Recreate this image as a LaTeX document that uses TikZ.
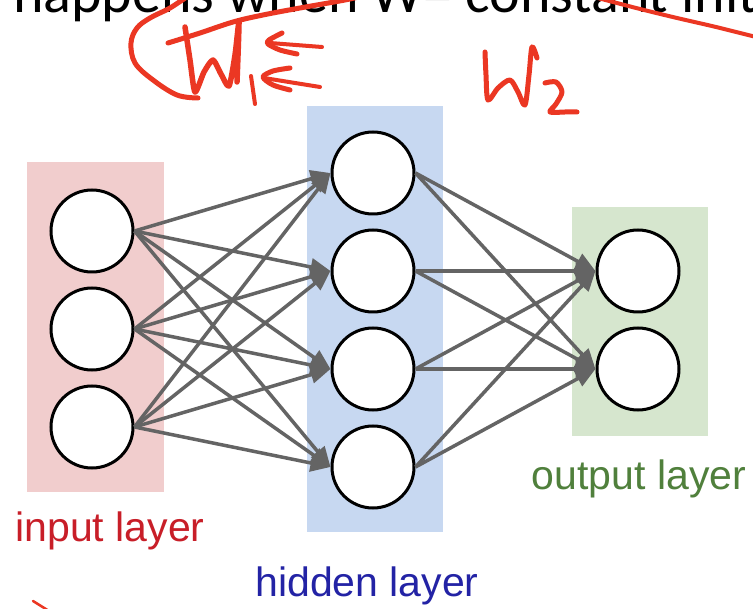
\documentclass[tikz,border=0pt]{standalone}
\usepackage{fontspec}
\setmainfont{Liberation Sans}
\newfontfamily\slidefont{Carlito}
\usetikzlibrary{arrows.meta}

\definecolor{inbox}{RGB}{241,205,205}
\definecolor{hidbox}{RGB}{199,216,241}
\definecolor{outbox}{RGB}{214,230,206}
\definecolor{intext}{RGB}{200,30,40}
\definecolor{hidtext}{RGB}{35,35,165}
\definecolor{outtext}{RGB}{80,128,60}
\definecolor{wire}{RGB}{100,100,100}
\definecolor{pen}{RGB}{235,55,35}

\tikzset{
  neuron/.style={circle, draw=black, line width=3pt, fill=white,
                 minimum size=82pt, inner sep=0pt},
  wirearrow/.style={draw=wire, line width=3.5pt,
                    -{Triangle[length=20pt,width=17pt]}},
  layerlabel/.style={anchor=base, inner sep=0pt,
                     font=\fontsize{41pt}{41pt}\selectfont},
  headword/.style={anchor=base west, inner sep=0pt,
                   font=\slidefont\fontsize{58pt}{58pt}\selectfont},
  ink/.style={draw=pen, line width=5pt, line cap=round, line join=round},
}

\begin{document}
\begin{tikzpicture}[x=1pt, y=-1pt]
  \useasboundingbox (0,0) rectangle (753,609);
  \clip (0,0) rectangle (753,609);
  \fill[white] (0,0) rectangle (753,609);

  % slide heading, mostly cut off at the top edge
  \node[headword] (title) at (13,13) {happens when W= constant initialization};

  % layer backgrounds
  \fill[inbox]  (27,162)  rectangle (164,492);
  \fill[hidbox] (307,106) rectangle (443,532);
  \fill[outbox] (572,207) rectangle (708,436);

  % neurons
  \node[neuron] (i1) at (92,231) {};
  \node[neuron] (i2) at (92,329) {};
  \node[neuron] (i3) at (92,427) {};
  \node[neuron] (h1) at (373,173) {};
  \node[neuron] (h2) at (373,271) {};
  \node[neuron] (h3) at (373,369) {};
  \node[neuron] (h4) at (373,467) {};
  \node[neuron] (o1) at (638,271) {};
  \node[neuron] (o2) at (638,369) {};

  % fully connected weights
  \foreach \s in {i1,i2,i3}
    \foreach \t in {h1,h2,h3,h4}
      \draw[wirearrow] (\s.east) -- (\t.west);
  \foreach \s in {h1,h2,h3,h4}
    \foreach \t in {o1,o2}
      \draw[wirearrow] (\s.east) -- (\t.west);

  % layer names
  \node[layerlabel, text=intext]  (lin)  at (110,542) {input layer};
  \node[layerlabel, text=hidtext] (lhid) at (367,596) {hidden layer};
  \node[layerlabel, text=outtext] (lout) at (639,490) {output layer};

  % handwritten annotations
  \draw[ink] plot[smooth, tension=0.6] coordinates
    {(188,-4) (170,8) (150,18) (137,28) (131,43) (135,63) (153,80) (177,95) (198,98)};
  \draw[ink] plot[smooth, tension=0.6] coordinates
    {(168,43) (200,33) (233,22) (263,15) (300,8) (345,0) (362,-4)};
  \draw[ink, line width=5.5pt] plot[smooth, tension=0.4] coordinates
    {(185,27) (190,60) (195,92) (204,72) (213,60) (221,74) (229,86) (235,55) (239,22) (237,82)};
  \draw[ink, line width=4pt] (251,76) -- (255,104);
  \draw[ink] plot[smooth, tension=0.5] coordinates
    {(282,33) (269,40) (268,44) (280,50) (297,54)};
  \draw[ink, line width=4pt] (270,43) -- (322,47);
  \draw[ink] plot[smooth, tension=0.5] coordinates
    {(290,68) (273,71) (263,77) (273,85) (290,90)};
  \draw[ink, line width=4pt] (264,78) -- (320,87);
  \draw[ink] plot[smooth, tension=0.5] coordinates
    {(485,52) (486,75) (488,100) (498,88) (510,80) (518,92) (525,105) (529,75) (532,47) (537,58)};
  \draw[ink] plot[smooth, tension=0.5] coordinates
    {(545,83) (556,82) (562,92) (556,104) (550,112) (565,112) (577,112)};
  \draw[ink, line width=4pt] plot[smooth, tension=0.5] coordinates
    {(594,-3) (640,9) (677,18) (716,27) (760,38)};
  \draw[ink, line width=2.5pt] (33,601) -- (49,611);
\end{tikzpicture}
\end{document}
